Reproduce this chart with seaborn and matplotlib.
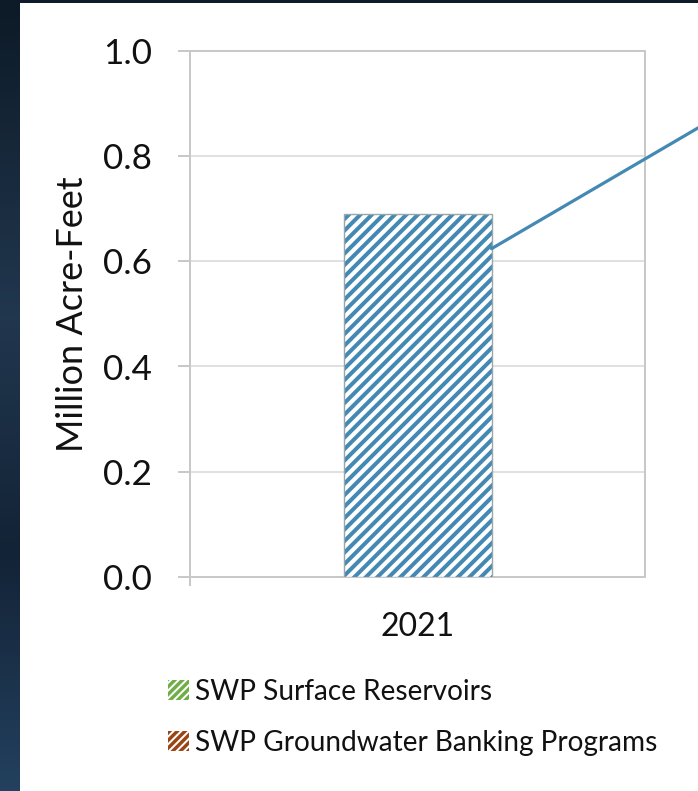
import matplotlib
matplotlib.use('Agg')
import numpy as np
import matplotlib.pyplot as plt
import seaborn as sns
import pandas as pd
from matplotlib.patches import Patch, Rectangle
from matplotlib.ticker import FixedLocator
from matplotlib.colors import LinearSegmentedColormap

# ---- data ----
years = ['2021']
surface_reservoirs = [0.69]
yticks = [0.0, 0.2, 0.4, 0.6, 0.8, 1.0]
ytick_labels = ['0.0', '0.2', '0.4', '0.6', '0.8', '1.0']
legend_labels = ['SWP Surface Reservoirs', 'SWP Groundwater Banking Programs']
legend_colors = ['#70AD47', '#9A4515']
ylabel = 'Million Acre-Feet'

DPI = 69
PT = 72.0 / DPI  # points per pixel
BLUE = '#4389B3'
W, H = 698, 791

sns.set_theme(style='white')
plt.rcParams['font.family'] = ['Lato', 'DejaVu Sans']
plt.rcParams['hatch.linewidth'] = 4.0 * PT

fig = plt.figure(figsize=((W + 0.2) / DPI, (H + 0.2) / DPI), dpi=DPI)
fig.patch.set_facecolor('#0e1b28')

# dark slide background strip on the left (gradient)
bg = fig.add_axes([0, 0, 20 / W, 1], zorder=-5)
grad_cmap = LinearSegmentedColormap.from_list(
    'bgstrip', [(0.0, '#23405e'), (0.3, '#132336'), (0.6, '#21374e'), (1.0, '#0d1a27')])
bg.imshow(np.linspace(0, 1, 200).reshape(-1, 1), aspect='auto', cmap=grad_cmap,
          origin='lower', extent=(0, 1, 0, 1))
bg.axis('off')

fig.add_artist(Rectangle((20 / W, 0), 1, 1 - 3 / H, transform=fig.transFigure,
                         facecolor='white', edgecolor='none', zorder=0))

ax = fig.add_axes([190 / W, 1 - 577 / H, 455 / W, 526 / H])
df = pd.DataFrame({'year': years, 'value': surface_reservoirs})
sns.barplot(data=df, x='year', y='value', ax=ax, width=0.325, color='white',
            edgecolor=BLUE, linewidth=0, hatch='//', errorbar=None, zorder=3)
sns.barplot(data=df, x='year', y='value', ax=ax, width=0.325, fill=False,
            color='#9aa6a8', linewidth=1.4 * PT, errorbar=None, zorder=4)

ax.set_xlim(-0.5, 0.5)
ax.set_ylim(0, 1)
ax.set_yticks(yticks)
ax.set_yticklabels(ytick_labels)
ax.set_xlabel('')
ax.set_ylabel(ylabel, fontsize=36 * PT, color='#111111')
ax.yaxis.set_label_coords(-0.222, 0.5)

ax.set_axisbelow(True)
ax.yaxis.grid(True, color='#d9d9d9', linewidth=1.6 * PT)
for s in ax.spines.values():
    s.set_color('#c8c8c8')
    s.set_linewidth(2 * PT)
    s.set_visible(True)

ax.tick_params(axis='y', which='major', left=True, length=12 * PT, width=2 * PT,
               color='#c8c8c8', pad=26 * PT, labelsize=35 * PT, labelcolor='#111111')
ax.tick_params(axis='x', which='major', bottom=True, length=0, pad=35 * PT,
               labelsize=32 * PT, labelcolor='#111111')
ax.xaxis.set_minor_locator(FixedLocator([-0.5]))
ax.tick_params(axis='x', which='minor', bottom=True, length=9 * PT, width=2 * PT,
               color='#c8c8c8')

# leader line from the bar
bar = ax.patches[0]
ax.annotate('', xy=(bar.get_x() + bar.get_width(), 0.624), xycoords='data',
            xytext=(1.0, 1 - 128 / H), textcoords='figure fraction',
            arrowprops=dict(arrowstyle='-', color=BLUE, lw=3.2 * PT,
                            shrinkA=0, shrinkB=0),
            annotation_clip=False, zorder=6)

# legend
with plt.rc_context({'hatch.linewidth': 2.0 * PT}):
    handles = [Patch(facecolor=c, edgecolor='white', linewidth=0, hatch='///')
               for c in legend_colors]
    fs_px = 28
    fig.legend(handles, legend_labels, loc='upper left',
               bbox_to_anchor=(168 / W, 1 - 679 / H), frameon=False,
               fontsize=fs_px * PT, handlelength=21 / fs_px, handleheight=21 / fs_px,
               handletextpad=6 / fs_px, labelspacing=0.88, borderpad=0,
               borderaxespad=0, labelcolor='#111111')

fig.savefig('out.png', dpi=DPI, facecolor=fig.get_facecolor())
